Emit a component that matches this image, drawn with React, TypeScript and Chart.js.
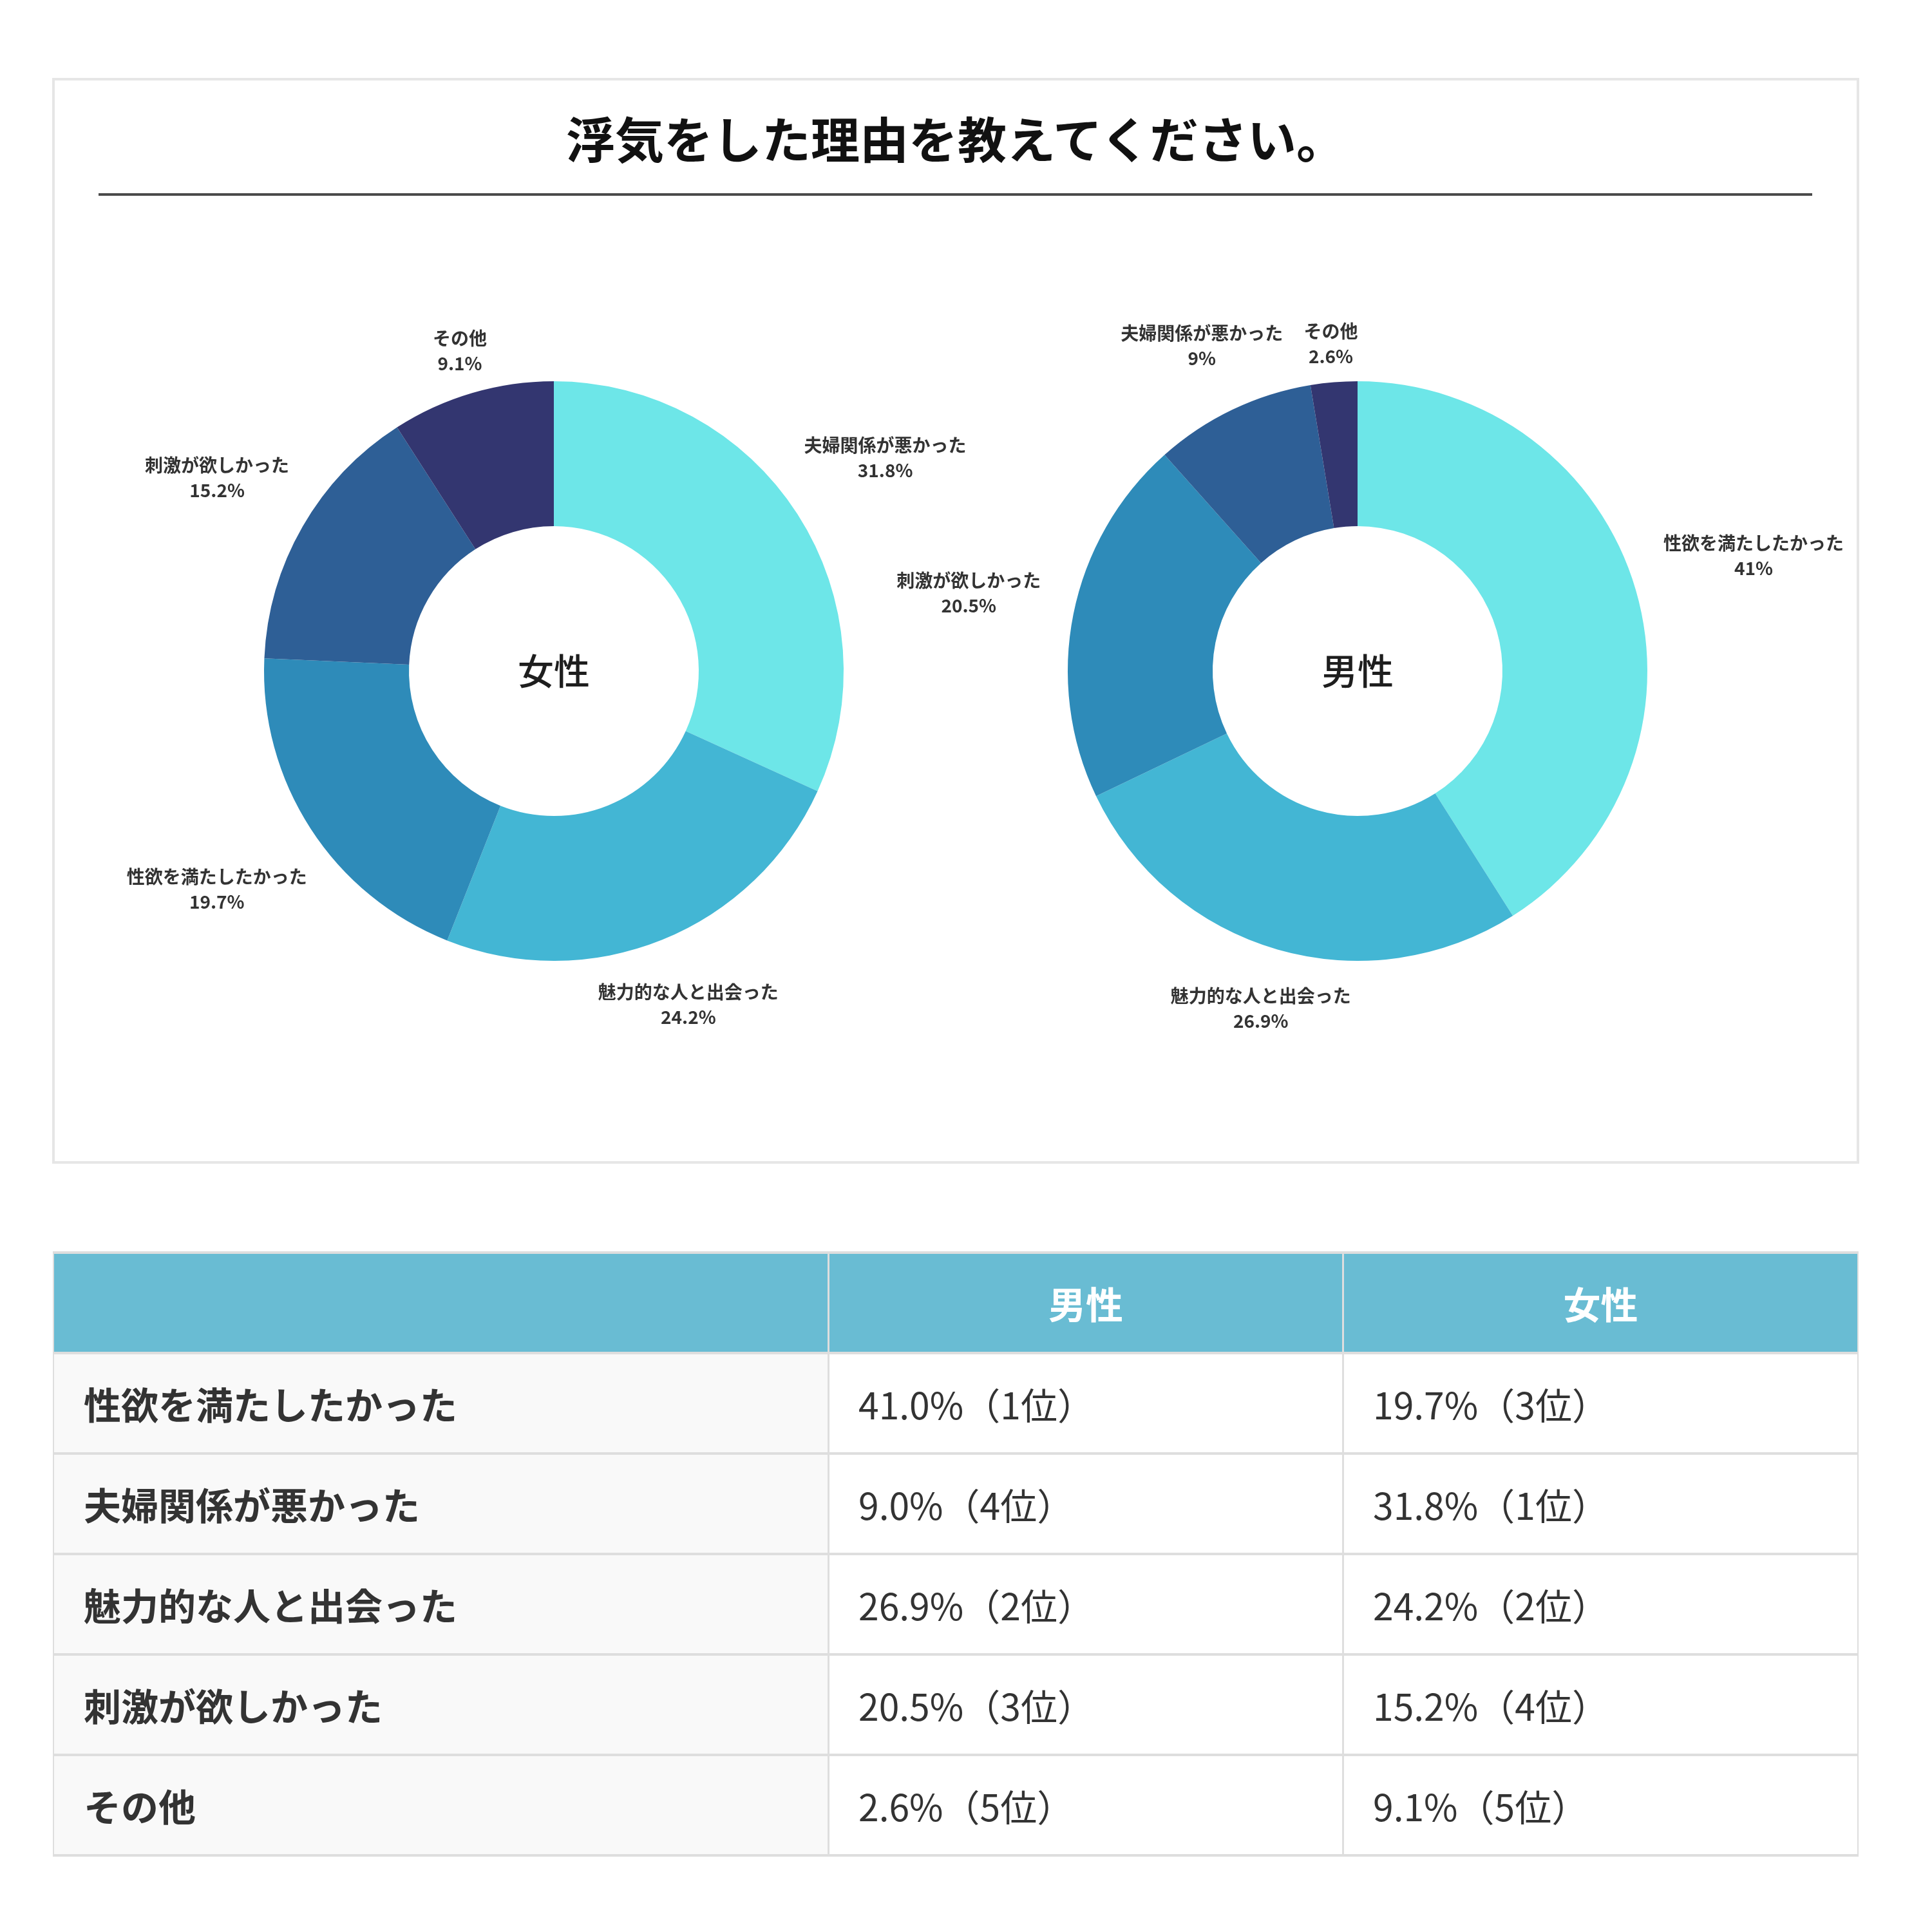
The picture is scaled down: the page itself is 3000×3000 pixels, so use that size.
import React, { useEffect, useRef } from "react";
import { Chart, registerables } from "chart.js";

Chart.register(...registerables);

const TITLE = "浮気をした理由を教えてください。";
const categories = ["性欲を満たしたかった", "夫婦関係が悪かった", "魅力的な人と出会った", "刺激が欲しかった", "その他"];
const maleValues = [41.0, 9.0, 26.9, 20.5, 2.6];
const femaleValues = [19.7, 31.8, 24.2, 15.2, 9.1];
const groupNames = ["男性", "女性"];
const rankColors = ["#6de6e8", "#43b6d4", "#2e8bb9", "#2e5f96", "#333670"];

const FONT = '"Noto Sans CJK JP", "Noto Sans", sans-serif';

function sortedDesc(values: number[]) {
  const idx = values.map((_, i) => i).sort((a, b) => values[b] - values[a]);
  return { labels: idx.map((i) => categories[i]), data: idx.map((i) => values[i]) };
}

function rankOf(values: number[], i: number) {
  return values.filter((v) => v > values[i]).length + 1;
}

const centerText = {
  id: "centerText",
  afterDraw(chart: any, _args: any, opts: any) {
    const meta = chart.getDatasetMeta(0);
    const arc = meta.data[0];
    if (!arc) return;
    const ctx = chart.ctx;
    ctx.save();
    ctx.font = `500 56px ${FONT}`;
    ctx.fillStyle = "#1e1e1e";
    ctx.textAlign = "center";
    ctx.textBaseline = "middle";
    ctx.fillText(opts.text, arc.x, arc.y);
    ctx.restore();
  },
};

const outsideLabels = {
  id: "outsideLabels",
  afterDraw(chart: any) {
    const ctx = chart.ctx;
    const meta = chart.getDatasetMeta(0);
    const ds = chart.data.datasets[0];
    const labels = chart.data.labels;
    const LH = 39;
    const gap = 56;
    ctx.save();
    ctx.font = `bold 28px ${FONT}`;
    ctx.textAlign = "center";
    ctx.textBaseline = "middle";
    ctx.fillStyle = "#333333";
    meta.data.forEach((arc: any, i: number) => {
      const p = arc.getProps(["x", "y", "startAngle", "endAngle", "outerRadius"], true);
      const mid = (p.startAngle + p.endAngle) / 2;
      const ux = Math.cos(mid);
      const uy = Math.sin(mid);
      const l1 = String(labels[i]);
      const l2 = `${ds.data[i]}%`;
      const w = Math.max(ctx.measureText(l1).width, ctx.measureText(l2).width) / 2;
      const d = p.outerRadius + gap + w * Math.abs(ux);
      const cx = p.x + ux * d;
      const cy = p.y + uy * d;
      ctx.fillText(l1, cx, cy - LH / 2);
      ctx.fillText(l2, cx, cy + LH / 2);
    });
    ctx.restore();
  },
};

function Donut({ values, name, left }: { values: number[]; name: string; left: number }) {
  const ref = useRef<HTMLCanvasElement | null>(null);
  useEffect(() => {
    if (!ref.current) return;
    const s = sortedDesc(values);
    const chart = new Chart(ref.current, {
      type: "doughnut",
      data: {
        labels: s.labels,
        datasets: [{ data: s.data, backgroundColor: rankColors, borderWidth: 0 }],
      },
      options: {
        responsive: false,
        animation: false,
        devicePixelRatio: 1,
        cutout: "50%",
        layout: { padding: { left: 330, right: 330, top: 192, bottom: 192 } },
        plugins: {
          legend: { display: false },
          tooltip: { enabled: false },
          centerText: { text: name },
        } as any,
      },
      plugins: [centerText, outsideLabels],
    });
    return () => chart.destroy();
  }, [values, name]);
  return (
    <canvas
      ref={ref}
      width={1560}
      height={1284}
      style={{ position: "absolute", left, top: 400, width: 1560, height: 1284 }}
    />
  );
}

export default function App() {
  const colW = [1201, 796, 797];
  const rowH = 152;
  const cellBase: React.CSSProperties = {
    display: "flex",
    alignItems: "center",
    boxSizing: "border-box",
    height: rowH,
    fontFamily: FONT,
    color: "#333",
  };
  const tableCells: React.ReactNode[] = [];
  const headStyle: React.CSSProperties = {
    ...cellBase,
    background: "#69bcd3",
    justifyContent: "center",
    color: "#fff",
    fontWeight: 700,
    fontSize: 58,
  };
  tableCells.push(<div key="h0" style={{ ...cellBase, background: "#69bcd3" }} />);
  tableCells.push(<div key="h1" style={headStyle}>{groupNames[0]}</div>);
  tableCells.push(<div key="h2" style={headStyle}>{groupNames[1]}</div>);
  categories.forEach((c, i) => {
    tableCells.push(
      <div key={`c${i}`} style={{ ...cellBase, background: "#f9f9f9", paddingLeft: 46, fontWeight: 700, fontSize: 58 }}>
        {c}
      </div>
    );
    tableCells.push(
      <div key={`m${i}`} style={{ ...cellBase, background: "#fff", paddingLeft: 45, fontSize: 57 }}>
        {`${maleValues[i].toFixed(1)}%（${rankOf(maleValues, i)}位）`}
      </div>
    );
    tableCells.push(
      <div key={`f${i}`} style={{ ...cellBase, background: "#fff", paddingLeft: 45, fontSize: 57 }}>
        {`${femaleValues[i].toFixed(1)}%（${rankOf(femaleValues, i)}位）`}
      </div>
    );
  });

  return (
    <div style={{ position: "absolute", left: 0, top: 0, width: 3000, height: 3000, background: "#fff", fontFamily: FONT }}>
      <div
        style={{
          position: "absolute",
          left: 81,
          top: 121,
          width: 2806,
          height: 1686,
          border: "4px solid #e6e6e6",
          boxSizing: "border-box",
        }}
      />
      <div
        style={{
          position: "absolute",
          left: 81,
          top: 163,
          width: 2806,
          textAlign: "center",
          fontSize: 76,
          fontWeight: 700,
          lineHeight: "100px",
          color: "#111",
        }}
      >
        {TITLE}
      </div>
      <div style={{ position: "absolute", left: 153, top: 300, width: 2661, height: 4, background: "#4a4a4a" }} />
      <Donut values={femaleValues} name={groupNames[1]} left={80} />
      <Donut values={maleValues} name={groupNames[0]} left={1328} />
      <div
        style={{
          position: "absolute",
          left: 82,
          top: 1943,
          width: 2804,
          boxSizing: "border-box",
          background: "#dedede",
          padding: "4px 2px",
          display: "grid",
          gridTemplateColumns: colW.map((w) => `${w}px`).join(" "),
          gridAutoRows: `${rowH}px`,
          columnGap: 3,
          rowGap: 4,
        }}
      >
        {tableCells}
      </div>
    </div>
  );
}
